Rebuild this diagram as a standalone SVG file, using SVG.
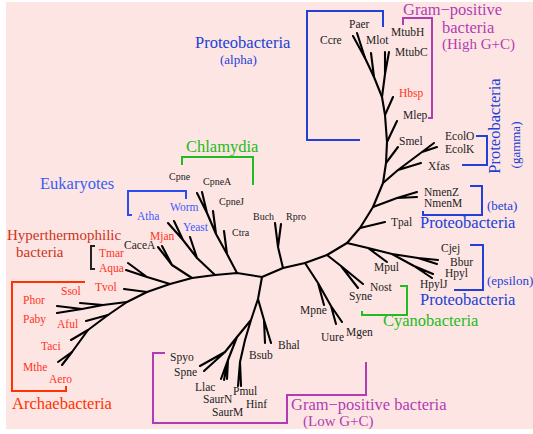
<svg xmlns="http://www.w3.org/2000/svg" width="533" height="434" viewBox="0 0 533 434">
<defs>
<style>
text{font-family:"Liberation Serif","Times New Roman",serif;}
.lf{font-size:11.5px;fill:#222;}
.ls{font-size:10px;fill:#222;}
.lr{font-size:11.5px;fill:#ff3322;}
.lb{font-size:11.5px;fill:#3c5cff;}
.big{font-size:16.5px;}
.mid{font-size:15px;}
.sm{font-size:13px;}
.blue{fill:#2240d8;}
.purple{fill:#b23db2;}
.green{fill:#22bb22;}
.red{fill:#ff3300;}
.dred{fill:#cc3322;}
.lblue{fill:#3a5cf2;}
.tree{fill:none;stroke:#000;stroke-width:2.1;stroke-linejoin:round;stroke-linecap:round;}
.br{fill:none;stroke-width:2;}
</style>
</defs>
<rect x="0" y="0" width="533" height="434" fill="#ffffff"/>
<rect x="6" y="2" width="527" height="427" fill="#fde5e3"/>

<g id="connectors">
<path class="tree" d="M58,362 L72,352 L88,330 L108,315 L127,302 L147,292 L170,284 L192,278 L215,275 L237,273 L262,277 L283,268 L305,263 L327,255 L347,243 L360,228 L373,207 L383,183 L386,163 L387,142 L385,115 L382,97 L374,77 L365,58 L353,36"/>
<path class="tree" d="M62,365 L72,352 M71,340 L88,330 M86,321 L108,315 M127,302 L103,305 L80,303 M103,305 L82,309 L57,306 M82,309 L57,313 M124,289 L147,292 M170,284 L147,277 L128,263 M147,277 L126,270 M192,278 L172,265 L158,247 M172,265 L162,246 M215,275 L197,258 L190,237 M197,258 L183,240 L168,223 M183,240 L174,221"/>
<path class="tree" d="M237,273 L227,254 L224,231 M227,254 L216,234 L213,211 M216,234 L207,213 L197,193 M207,213 L202,192"/>
<path class="tree" d="M262,277 L258,299 L264,320 L265,343 M264,320 L271,343 M258,299 L251,320 L245,340 L240,362 L238,386 M240,362 L241,386 M251,320 L237,337 L225,352 L200,366 M225,352 L204,371 M237,337 L228,360 L221,379 M228,360 L224,380 M228,360 L227,379"/>
<path class="tree" d="M283,268 L278,247 L275,223 M278,247 L281,224 M305,263 L318,283 L324,305 M318,283 L331,306 L336,324 M331,306 L342,322 M327,255 L341,266 L358,288 M341,266 L363,284 M347,243 L368,248 L387,262 M368,248 L392,254 L418,258 L438,260 M418,258 L437,264 M392,254 L414,266 L433,274 M414,266 L432,278"/>
<path class="tree" d="M360,228 L385,222 M373,207 L397,198 L417,192 M397,198 L417,197 M383,183 L398,170 L421,163 M398,170 L422,152 L434,143 M422,152 L437,147 M386,163 L398,147 M387,142 L397,121 M385,115 L393,97 M365,58 L357,33 M374,77 L371,53 M382,97 L385,74 L385,52 M385,74 L389,52"/>
</g>

<g id="brackets">
<path class="br" stroke="#2240d8" d="M360,140 L307,140 L307,11 L383,11 L383,27"/>
<path class="br" stroke="#b23db2" d="M403,25 L403,18 L432,18 L432,118 L428,118"/>
<path class="br" stroke="#2240d8" d="M476,136 L487,136 L487,165 L462,165"/>
<path class="br" stroke="#2240d8" d="M470,186 L482,186 L482,215 L423,215 L423,211"/>
<path class="br" stroke="#2240d8" d="M470,245 L483,245 L483,290 L454,290"/>
<path class="br" stroke="#22bb22" d="M400,286 L407,286 L407,315 L362,315 L362,311"/>
<path class="br" stroke="#b23db2" d="M165,353 L153,353 L153,423 L287,423 L287,395 L366,395 L366,362"/>
<path class="br" stroke="#ff3300" d="M85,282 L12,282 L12,391 L66,391 L66,386"/>
<path class="br" stroke="#222" d="M95,246 L91,246 L91,269 L95,269"/>
<path class="br" stroke="#2a4cf0" d="M132,215 L128,215 L128,191 L186,191 L186,199"/>
<path class="br" stroke="#22bb22" d="M182,165 L182,157 L253,157 L253,185"/>
</g>

<g id="group-labels">
<g id="g-alpha"><text class="big blue" x="195" y="48">Proteobacteria</text><text class="sm blue" x="220" y="64">(alpha)</text></g>
<g id="g-highgc"><text class="big purple" x="403" y="15">Gram−positive</text><text class="big purple" x="442" y="33">bacteria</text><text class="mid purple" x="442" y="49">(High G+C)</text></g>
<g id="g-gamma"><text class="big blue" text-anchor="middle" transform="translate(500,126) rotate(-90)">Proteobacteria</text><text class="sm blue" text-anchor="middle" transform="translate(520,145) rotate(-90)">(gamma)</text></g>
<g id="g-beta"><text class="sm blue" x="487" y="210">(beta)</text><text class="big blue" x="420" y="228">Proteobacteria</text></g>
<g id="g-epsilon"><text class="sm blue" x="487" y="285">(epsilon)</text><text class="big blue" x="420" y="305">Proteobacteria</text></g>
<g id="g-cyano"><text class="big green" x="383" y="326">Cyanobacteria</text></g>
<g id="g-lowgc"><text class="big purple" x="291" y="410">Gram−positive bacteria</text><text class="mid purple" x="303" y="426">(Low G+C)</text></g>
<g id="g-archaea"><text class="big red" x="12" y="409">Archaebacteria</text></g>
<g id="g-hyper"><text class="mid dred" x="7" y="240">Hyperthermophilic</text><text class="mid dred" x="16" y="257">bacteria</text></g>
<g id="g-euk"><text class="big lblue" x="40" y="189">Eukaryotes</text></g>
<g id="g-chlam"><text class="big green" x="186" y="152">Chlamydia</text></g>
</g>

<g id="leaves">
<g id="n-Ccre"><text class="lf" x="320" y="44">Ccre</text></g>
<g id="n-Paer"><text class="lf" x="349" y="28">Paer</text></g>
<g id="n-Mlot"><text class="lf" x="366" y="44">Mlot</text></g>
<g id="n-MtubH"><text class="lf" x="391" y="36">MtubH</text></g>
<g id="n-MtubC"><text class="lf" x="395" y="56">MtubC</text></g>
<g id="n-Hbsp"><text class="lr" x="399" y="97">Hbsp</text></g>
<g id="n-Mlep"><text class="lf" x="403" y="119">Mlep</text></g>
<g id="n-Smel"><text class="lf" x="399" y="145">Smel</text></g>
<g id="n-EcolO"><text class="lf" x="445" y="140">EcolO</text></g>
<g id="n-EcolK"><text class="lf" x="445" y="153">EcolK</text></g>
<g id="n-Xfas"><text class="lf" x="428" y="170">Xfas</text></g>
<g id="n-NmenZ"><text class="lf" x="424" y="196">NmenZ</text></g>
<g id="n-NmenM"><text class="lf" x="424" y="207">NmenM</text></g>
<g id="n-Tpal"><text class="lf" x="391" y="226">Tpal</text></g>
<g id="n-Cjej"><text class="lf" x="441" y="252">Cjej</text></g>
<g id="n-Bbur"><text class="lf" x="450" y="266">Bbur</text></g>
<g id="n-Hpyl"><text class="lf" x="445" y="277">Hpyl</text></g>
<g id="n-HpylJ"><text class="lf" x="420" y="288">HpylJ</text></g>
<g id="n-Mpul"><text class="lf" x="374" y="271">Mpul</text></g>
<g id="n-Nost"><text class="lf" x="370" y="291">Nost</text></g>
<g id="n-Syne"><text class="lf" x="349" y="300">Syne</text></g>
<g id="n-Mpne"><text class="lf" x="300" y="314">Mpne</text></g>
<g id="n-Uure"><text class="lf" x="321" y="341">Uure</text></g>
<g id="n-Mgen"><text class="lf" x="346" y="336">Mgen</text></g>
<g id="n-Bhal"><text class="lf" x="278" y="349">Bhal</text></g>
<g id="n-Bsub"><text class="lf" x="249" y="359">Bsub</text></g>
<g id="n-Spyo"><text class="lf" x="170" y="361">Spyo</text></g>
<g id="n-Spne"><text class="lf" x="174" y="376">Spne</text></g>
<g id="n-Llac"><text class="lf" x="195" y="391">Llac</text></g>
<g id="n-Pmul"><text class="lf" x="233" y="395">Pmul</text></g>
<g id="n-SaurN"><text class="lf" x="203" y="403">SaurN</text></g>
<g id="n-Hinf"><text class="lf" x="246" y="408">Hinf</text></g>
<g id="n-SaurM"><text class="lf" x="212" y="416">SaurM</text></g>
<g id="n-Buch"><text class="ls" x="253" y="220">Buch</text></g>
<g id="n-Rpro"><text class="ls" x="286" y="220">Rpro</text></g>
<g id="n-Cpne"><text class="ls" x="169" y="180">Cpne</text></g>
<g id="n-CpneA"><text class="ls" x="203" y="185">CpneA</text></g>
<g id="n-CpneJ"><text class="ls" x="219" y="205">CpneJ</text></g>
<g id="n-Ctra"><text class="ls" x="232" y="236">Ctra</text></g>
<g id="n-Worm"><text class="lb" x="170" y="211">Worm</text></g>
<g id="n-Atha"><text class="lb" x="137" y="220">Atha</text></g>
<g id="n-Yeast"><text class="lb" x="183" y="231">Yeast</text></g>
<g id="n-Mjan"><text class="lr" x="150" y="240">Mjan</text></g>
<g id="n-CaceA"><text class="lf" x="124" y="249">CaceA</text></g>
<g id="n-Tmar"><text class="lr" x="99" y="257">Tmar</text></g>
<g id="n-Aqua"><text class="lr" x="99" y="272">Aqua</text></g>
<g id="n-Tvol"><text class="lr" x="95" y="291">Tvol</text></g>
<g id="n-Ssol"><text class="lr" x="61" y="295">Ssol</text></g>
<g id="n-Phor"><text class="lr" x="23" y="304">Phor</text></g>
<g id="n-Paby"><text class="lr" x="23" y="323">Paby</text></g>
<g id="n-Aful"><text class="lr" x="57" y="328">Aful</text></g>
<g id="n-Taci"><text class="lr" x="41" y="350">Taci</text></g>
<g id="n-Mthe"><text class="lr" x="23" y="371">Mthe</text></g>
<g id="n-Aero"><text class="lr" x="49" y="383">Aero</text></g>
</g>
</svg>
